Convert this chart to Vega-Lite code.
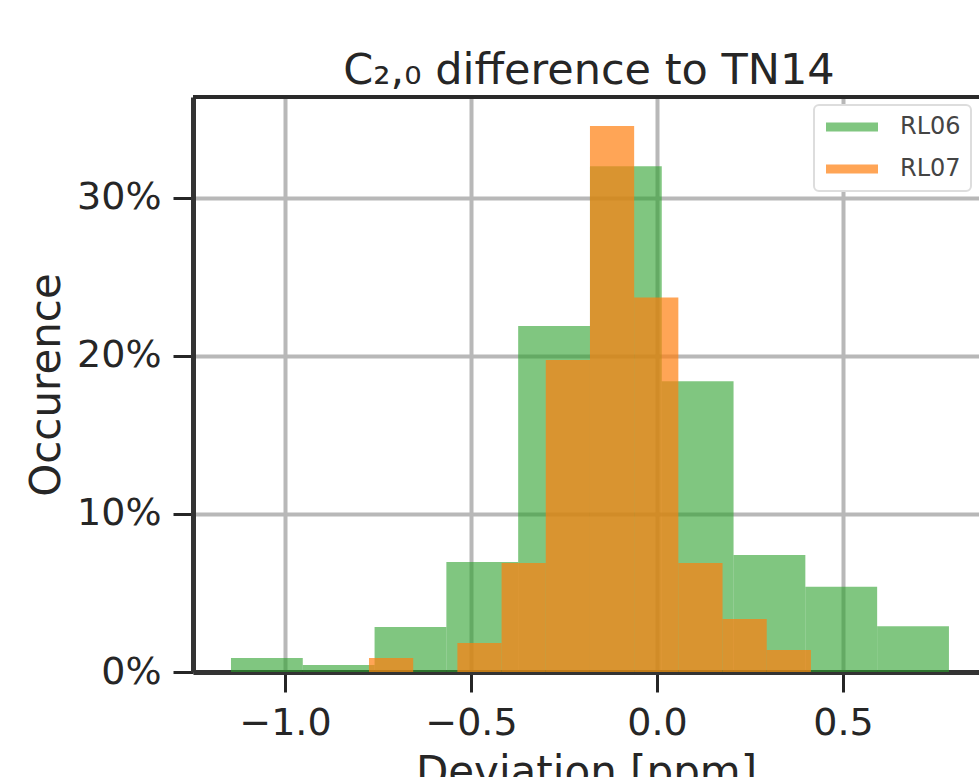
{
  "$schema": "https://vega.github.io/schema/vega-lite/v6.json",
  "autosize": {"type": "none"},
  "padding": {"left": 193, "top": 97, "right": 0, "bottom": 105},
  "width": 786,
  "height": 575,
  "background": "white",
  "title": {
    "text": "C₂,₀ difference to TN14",
    "font": "DejaVu Sans",
    "fontSize": 43,
    "fontWeight": "normal",
    "color": "#262626",
    "baseline": "bottom",
    "offset": 3,
    "dx": 3,
    "dy": 44
  },
  "data": {
    "values": [
      {"series": "RL06", "x0": -1.1452, "x1": -0.9522, "pct": 0.0089},
      {"series": "RL06", "x0": -0.9522, "x1": -0.7592, "pct": 0.0044},
      {"series": "RL06", "x0": -0.7592, "x1": -0.5662, "pct": 0.0285},
      {"series": "RL06", "x0": -0.5662, "x1": -0.3732, "pct": 0.0696},
      {"series": "RL06", "x0": -0.3732, "x1": -0.1802, "pct": 0.219},
      {"series": "RL06", "x0": -0.1802, "x1": 0.0128, "pct": 0.32},
      {"series": "RL06", "x0": 0.0128, "x1": 0.2058, "pct": 0.184},
      {"series": "RL06", "x0": 0.2058, "x1": 0.3988, "pct": 0.074},
      {"series": "RL06", "x0": 0.3988, "x1": 0.5918, "pct": 0.054},
      {"series": "RL06", "x0": 0.5918, "x1": 0.7848, "pct": 0.029},
      {"series": "RL07", "x0": -0.7742, "x1": -0.6554, "pct": 0.0089},
      {"series": "RL07", "x0": -0.6554, "x1": -0.5366, "pct": 0.0},
      {"series": "RL07", "x0": -0.5366, "x1": -0.4178, "pct": 0.0184},
      {"series": "RL07", "x0": -0.4178, "x1": -0.299, "pct": 0.069},
      {"series": "RL07", "x0": -0.299, "x1": -0.1802, "pct": 0.1975},
      {"series": "RL07", "x0": -0.1802, "x1": -0.0614, "pct": 0.3456},
      {"series": "RL07", "x0": -0.0614, "x1": 0.0574, "pct": 0.237},
      {"series": "RL07", "x0": 0.0574, "x1": 0.1762, "pct": 0.069},
      {"series": "RL07", "x0": 0.1762, "x1": 0.295, "pct": 0.0335},
      {"series": "RL07", "x0": 0.295, "x1": 0.4138, "pct": 0.0139}
    ]
  },
  "layer": [
    {
      "mark": {"type": "bar", "cornerRadius": 0, "strokeWidth": 0},
      "encoding": {
        "x": {
          "field": "x0",
          "type": "quantitative",
          "scale": {"domain": [-1.2473, 0.8656], "nice": false, "zero": false},
          "axis": {
            "values": [-1, -0.5, 0, 0.5],
            "format": ".1f",
            "title": "Deviation [ppm]",
            "grid": true
          }
        },
        "x2": {"field": "x1"},
        "y": {
          "field": "pct",
          "type": "quantitative",
          "stack": null,
          "scale": {"domain": [0, 0.3639], "nice": false},
          "axis": {
            "values": [0, 0.1, 0.2, 0.3],
            "format": ".0%",
            "title": "Occurence",
            "grid": true
          }
        },
        "y2": {"datum": 0},
        "color": {
          "field": "series",
          "type": "nominal",
          "scale": {"domain": ["RL06", "RL07"], "range": ["#2ca02c", "#ff7f0e"]},
          "legend": {
            "title": null,
            "orient": "top-right",
            "offset": 8,
            "padding": 10,
            "fillColor": "white",
            "strokeColor": "#dddddd",
            "cornerRadius": 5,
            "symbolType": "M-1,-0.45L4.2,-0.45L4.2,0.45L-1,0.45Z",
            "symbolSize": 400,
            "symbolStrokeWidth": 0,
            "labelFont": "DejaVu Sans",
            "labelFontSize": 24,
            "labelColor": "#444444",
            "labelOffset": 52,
            "rowPadding": 18,
            "encode": {"legend": {"update": {"strokeWidth": {"value": 2}}}}
          }
        },
        "opacity": {
          "field": "series",
          "type": "nominal",
          "scale": {"domain": ["RL06", "RL07"], "range": [0.6, 0.7]},
          "legend": {
            "title": null,
            "orient": "top-right",
            "offset": 8,
            "padding": 10,
            "fillColor": "white",
            "strokeColor": "#dddddd",
            "cornerRadius": 5,
            "symbolType": "M-1,-0.45L4.2,-0.45L4.2,0.45L-1,0.45Z",
            "symbolSize": 400,
            "symbolStrokeWidth": 0,
            "labelFont": "DejaVu Sans",
            "labelFontSize": 24,
            "labelColor": "#444444",
            "labelOffset": 52,
            "rowPadding": 18,
            "encode": {"legend": {"update": {"strokeWidth": {"value": 2}}}}
          }
        }
      }
    },
    {
      "mark": {"type": "rule", "color": "#2a2a2a", "strokeWidth": 4},
      "encoding": {
        "y": {"datum": 0.3639, "type": "quantitative"}
      }
    }
  ],
  "config": {
    "view": {"stroke": null},
    "font": "DejaVu Sans",
    "axis": {
      "labelFont": "DejaVu Sans",
      "labelFontSize": 38,
      "labelColor": "#262626",
      "titleFont": "DejaVu Sans",
      "titleFontSize": 42,
      "titleFontWeight": "normal",
      "titleColor": "#262626",
      "domainColor": "#333333",
      "domainWidth": 5,
      "tickColor": "#262626",
      "tickWidth": 3,
      "tickSize": 20,
      "labelPadding": 12,
      "gridColor": "#b8b8b8",
      "gridWidth": 4,
      "labelFlush": false,
      "labelOverlap": false
    },
    "axisX": {"titlePadding": 10},
    "axisY": {"titlePadding": 8}
  }
}
